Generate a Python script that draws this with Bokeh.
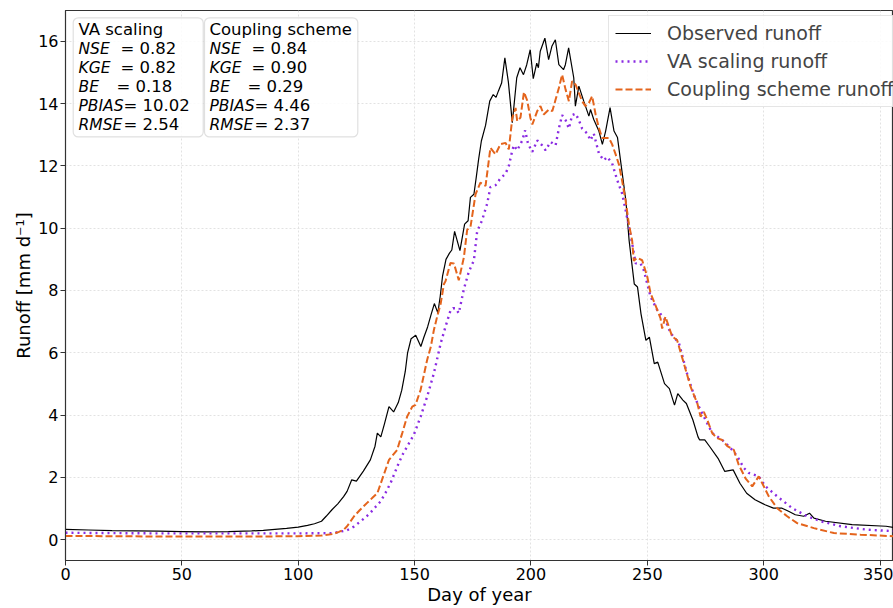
from bokeh.plotting import figure
from bokeh.models import (Legend, LegendItem, BoxAnnotation, Range1d, FixedTicker)
from bokeh.core.properties import value
from bokeh.embed import file_html
from bokeh.resources import INLINE

# ---------------- data ----------------
obs_day = [0, 10, 20, 30, 40, 50, 60, 70, 80, 85, 90, 95, 100, 104, 107, 110, 112, 114.5, 117, 119.5,
           121, 123, 125, 128, 131, 133, 134, 135.5, 137, 139, 141, 143, 144.5, 146, 147, 148.5, 150.5,
           152.7, 154, 155.6, 157, 158.5, 160, 161, 162, 163.5, 165, 166, 167.2, 169.5, 171.5, 173, 174,
           175.5, 176.5, 177.5, 178.7, 180.5, 182.3, 183.8, 185, 186, 187.4, 188.8, 190.3, 192, 193.9,
           195.3, 196.8, 198.2, 199.7, 201, 202.5, 203.2, 204, 206, 207.6, 209, 210.5, 212, 214, 214.8,
           216.2, 218.4, 219.1, 220.6, 222.7, 224.9, 225.6, 227, 229.2, 230.7, 232.1, 234, 235.7, 237.2,
           239.3, 240.8, 242.2, 244.4, 245.8, 247.3, 249.4, 250.9, 253, 254.5, 257.4, 259.5, 261.7, 263.1,
           265.3, 266.8, 269.6, 271.8, 272.5, 274.7, 276.8, 280.4, 283.3, 286.9, 289.8, 292.7, 296.3,
           300.6, 304.2, 307.9, 310.7, 313.6, 317.2, 319.7, 321.6, 326.6, 338, 352.6, 358, 365]
obs_val = [0.33, 0.31, 0.29, 0.28, 0.27, 0.26, 0.25, 0.26, 0.28, 0.30, 0.33, 0.36, 0.40, 0.46, 0.51, 0.59,
           0.75, 0.96, 1.15, 1.38, 1.55, 1.92, 1.88, 2.2, 2.56, 3.0, 3.42, 3.3, 3.7, 4.27, 4.1, 4.4, 4.8,
           5.4, 6.0, 6.45, 6.56, 6.2, 6.5, 6.83, 7.2, 7.58, 7.28, 7.8, 8.45, 9.0, 9.2, 9.3, 9.9, 9.28,
           10.13, 10.24, 10.99, 11.09, 11.63, 12.2, 12.8, 13.3, 14.08, 14.29, 14.2, 14.4, 14.66, 15.47,
           14.7, 13.39, 14.83, 15.15, 14.93, 15.25, 15.73, 14.8, 15.3, 15.15, 15.68, 16.1, 15.41, 15.84,
           16.05, 15.25, 15.09, 15.25, 15.79, 14.83, 13.92, 14.56, 14.08, 13.6, 13.81, 13.49, 13.12,
           12.69, 13.12, 13.87, 13.12, 12.91, 11.73, 10.88, 9.6, 8.21, 8.11, 7.25, 6.4, 6.5, 5.65, 5.7,
           5.01, 4.85, 4.32, 4.69, 4.48, 4.37, 3.84, 3.3, 3.2, 3.2, 2.99, 2.61, 2.19, 2.24, 1.81, 1.49,
           1.28, 1.12, 1.01, 1.01, 0.91, 0.80, 0.75, 0.85, 0.69, 0.59, 0.48, 0.43, 0.37, 0.35]

va_day = [0, 20, 40, 60, 80, 100, 115, 121, 124, 126.8, 129, 131, 133, 135.4, 137.5, 139.7, 141.5, 143.2,
          145, 146.8, 149.7, 152.6, 155.4, 158.3, 160, 161.2, 163.3, 165.4, 166.5, 167.6, 169, 171.2,
          173.3, 175.5, 176.9, 179, 181.2, 182.6, 184.8, 186.9, 189.1, 190.5, 192, 192.7, 194.1, 196.3,
          197.5, 198.8, 200.6, 202.7, 204.8, 206.3, 208.4, 210.6, 212, 213.4, 214.9, 216.3, 217.7, 219.2,
          220.6, 222, 224.2, 225.6, 227, 229.2, 231.3, 232.8, 234.9, 237.1, 239.2, 240.7, 242.1, 243.5,
          245, 247.1, 248.5, 250.7, 251.4, 254.3, 257.8, 260, 263.6, 267.2, 270, 272, 274.3, 277.9,
          282.2, 285.8, 288.7, 291.5, 293.6, 297.9, 300.8, 305.8, 312.3, 318.7, 324.5, 333, 344.5, 356, 365]
va_val = [0.22, 0.21, 0.20, 0.20, 0.20, 0.20, 0.21, 0.30, 0.42, 0.59, 0.72, 0.86, 1.03, 1.23, 1.5, 1.82,
          2.15, 2.46, 2.75, 2.99, 3.37, 3.95, 4.59, 5.34, 5.9, 6.3, 6.84, 7.35, 7.43, 7.43, 7.27, 8.05,
          8.6, 8.97, 9.9, 10.25, 10.79, 11.32, 11.38, 11.6, 11.75, 12.0, 12.5, 12.66, 12.5, 12.82, 13.14,
          12.7, 12.45, 12.82, 12.66, 12.5, 12.77, 12.66, 13.2, 13.63, 13.47, 13.2, 13.63, 13.68, 13.47,
          13.2, 13.04, 12.82, 13.04, 12.4, 12.18, 12.29, 12.08, 11.54, 11.11, 10.58, 10.04, 9.51, 8.87,
          8.87, 8.65, 8.01, 7.8, 7.37, 7.05, 6.63, 6.31, 5.3, 4.65, 4.3, 3.95, 3.42, 3.2, 2.94, 2.67,
          2.3, 2.14, 2.03, 1.71, 1.39, 1.01, 0.75, 0.59, 0.43, 0.32, 0.27, 0.25]

cs_day = [0, 20, 40, 60, 80, 100, 110, 115, 117.5, 119.6, 121, 124, 126.5, 129.6, 132, 134, 136, 139,
          142.5, 144.7, 146.8, 149, 150.4, 152.6, 155.4, 157, 158.3, 159.7, 161.2, 162.6, 163.3, 165.4,
          166.9, 169, 171.2, 172.6, 174, 176.2, 178.3, 180.5, 182.6, 184.8, 186.9, 189.1, 190.5, 192,
          193.4, 194.1, 195.5, 197, 198.4, 199.8, 200.6, 202.7, 204.1, 205.5, 207.7, 209.2, 210.6, 212,
          213.4, 214.9, 216.3, 217.7, 219.2, 220.6, 222, 223.4, 224.9, 226.3, 227.8, 229.2, 230.6, 233.5,
          234.9, 236.4, 237.8, 239.2, 240.7, 242.1, 243.5, 244.2, 245.6, 247.8, 250, 251.4, 253.5, 255.7,
          256.4, 257.8, 260.7, 262.8, 265.7, 268.6, 271.5, 272.9, 274.3, 275.8, 277.9, 280, 282.2, 284.4,
          287.2, 289.3, 292.2, 295.1, 297.9, 299.4, 302.2, 305.8, 310.1, 314.4, 321.6, 330.2, 341.6,
          355.8, 365]
cs_val = [0.12, 0.11, 0.10, 0.10, 0.10, 0.11, 0.13, 0.18, 0.25, 0.32, 0.43, 0.75, 0.95, 1.18, 1.35, 1.49,
          1.92, 2.56, 2.88, 3.42, 3.95, 4.27, 4.33, 4.81, 5.77, 6.2, 6.73, 7.16, 7.57, 8.2, 8.3, 8.88,
          8.87, 8.33, 9.07, 9.95, 10.03, 11.09, 11.46, 11.36, 12.58, 12.37, 12.7, 12.74, 12.53, 13.54,
          13.86, 13.44, 13.55, 14.37, 14.1, 13.54, 13.33, 13.76, 13.92, 13.65, 13.81, 13.76, 14.13, 14.5,
          14.93, 14.45, 14.08, 14.72, 14.61, 14.34, 14.08, 13.92, 14.02, 14.24, 13.65, 13.22, 12.9, 12.9,
          12.69, 12.37, 12.05, 11.52, 10.88, 10.13, 9.6, 8.95, 9.05, 8.97, 8.44, 7.91, 7.53, 7.1, 6.78,
          7.16, 6.52, 6.41, 5.66, 4.91, 4.38, 3.95, 4.1, 3.84, 3.42, 3.26, 3.2, 3.0, 2.88, 2.4, 1.97,
          1.71, 2.03, 1.81, 1.39, 1.01, 0.75, 0.53, 0.37, 0.21, 0.16, 0.11, 0.10]

x_ticks = [0, 50, 100, 150, 200, 250, 300, 350]
y_ticks = [0, 2, 4, 6, 8, 10, 12, 14, 16]

series_names = ["Observed runoff", "VA scaling runoff", "Coupling scheme runoff"]
metric_names = ["NSE", "KGE", "BE", "PBIAS", "RMSE"]
va_stats = ["0.82", "0.82", "0.18", "10.02", "2.54"]
cs_stats = ["0.84", "0.90", "0.29", "4.46", "2.37"]
box_titles = ["VA scaling", "Coupling scheme"]

# ---------------- layout (pixel positions on the page) ----------------
W, H = 893, 607
BL, BR, BT, BB = 65, 0, 10, 46
FW, FH = W - BL - BR, H - BT - BB
X0, X1 = 0, 355.8
Y0, Y1 = -0.67, 16.99
FONT = "DejaVu Sans"

def cx(px):  # page px -> data x
    return X0 + (px - BL) / FW * (X1 - X0)

def cy(py):  # page px -> data y
    return Y1 - (py - BT) / FH * (Y1 - Y0)

p = figure(width=W, height=H, output_backend="svg", toolbar_location=None,
           x_range=Range1d(X0, X1), y_range=Range1d(Y0, Y1),
           min_border_left=BL, min_border_right=BR, min_border_top=BT, min_border_bottom=BB)
p.background_fill_color = "white"
p.border_fill_color = "white"
p.outline_line_color = "#333333"
p.outline_line_width = 1.2

p.xaxis.ticker = FixedTicker(ticks=x_ticks)
p.yaxis.ticker = FixedTicker(ticks=y_ticks)
for ax in (p.xaxis, p.yaxis):
    ax.major_label_text_font = FONT
    ax.major_label_text_font_size = "16px"
    ax.major_label_text_color = "black"
    ax.axis_label_text_font = FONT
    ax.axis_label_text_font_size = "18px"
    ax.axis_label_text_font_style = "normal"
    ax.axis_label_text_color = "black"
    ax.minor_tick_line_color = None
    ax.major_tick_in = 0
    ax.major_tick_out = 5
    ax.major_tick_line_color = "#333333"
    ax.axis_line_color = "#333333"
    ax.major_label_standoff = 2
    ax.axis_label_standoff = 1
p.xaxis.axis_label = "Day of year"
p.yaxis.axis_label = "Runoff [mm d\u207b\u00b9]"

p.grid.grid_line_color = "#e2e2e2"
p.grid.grid_line_dash = "2 2"
p.grid.grid_line_width = 1

r_obs = p.line(obs_day, obs_val, line_color="black", line_width=1.2)
r_va = p.line(va_day, va_val, line_color="#8A2BE2", line_width=2.4, line_dash="2 4")
r_cs = p.line(cs_day, cs_val, line_color="#E4641C", line_width=2.0, line_dash="7 3")

# legend (partly outside frame on the right, as in the reference)
leg = Legend(items=[LegendItem(label=series_names[0], renderers=[r_obs]),
                    LegendItem(label=series_names[1], renderers=[r_va]),
                    LegendItem(label=series_names[2], renderers=[r_cs])],
             location=(608 - BL, FH - (108 - BT)))
leg.label_text_font = FONT
leg.label_text_font_size = "19px"
leg.glyph_width = 36
leg.glyph_height = 22
leg.label_height = 22
leg.spacing = 6
leg.padding = 6
leg.margin = 0
leg.label_standoff = 16
leg.border_line_color = "#cccccc"
leg.background_fill_alpha = 0.85
p.add_layout(leg)

# stats boxes
box_lefts = [72.7, 204.0]
box_rights = [202.7, 357.3]
for bl, br in zip(box_lefts, box_rights):
    p.add_layout(BoxAnnotation(left=cx(bl), right=cx(br), top=cy(17.3), bottom=cy(136.7),
                               fill_color="white", fill_alpha=0.85, line_color="#999999",
                               line_width=1.2, border_radius=5, level="underlay"))

row_y = [29.5 + 19 * i for i in range(6)]
text_x = [78, 209]
eq_x = [[120, 120, 116, 123, 123], [251, 251, 247, 254, 254]]
stats = [va_stats, cs_stats]
for b in range(2):
    p.text(x=[cx(text_x[b])], y=[cy(row_y[0])], text=[box_titles[b]],
           text_font=value(FONT), text_font_size=value("16.5px"),
           text_baseline="middle", text_align="left", text_color="black")
    p.text(x=[cx(text_x[b])] * 5, y=[cy(v) for v in row_y[1:]], text=metric_names,
           text_font=value(FONT), text_font_size=value("15.5px"), text_font_style="italic",
           text_baseline="middle", text_align="left", text_color="black")
    p.text(x=[cx(v) for v in eq_x[b]], y=[cy(v) for v in row_y[1:]],
           text=["= " + s for s in stats[b]],
           text_font=value(FONT), text_font_size=value("16.5px"),
           text_baseline="middle", text_align="left", text_color="black")

open("out.html", "w").write(file_html(p, INLINE))
